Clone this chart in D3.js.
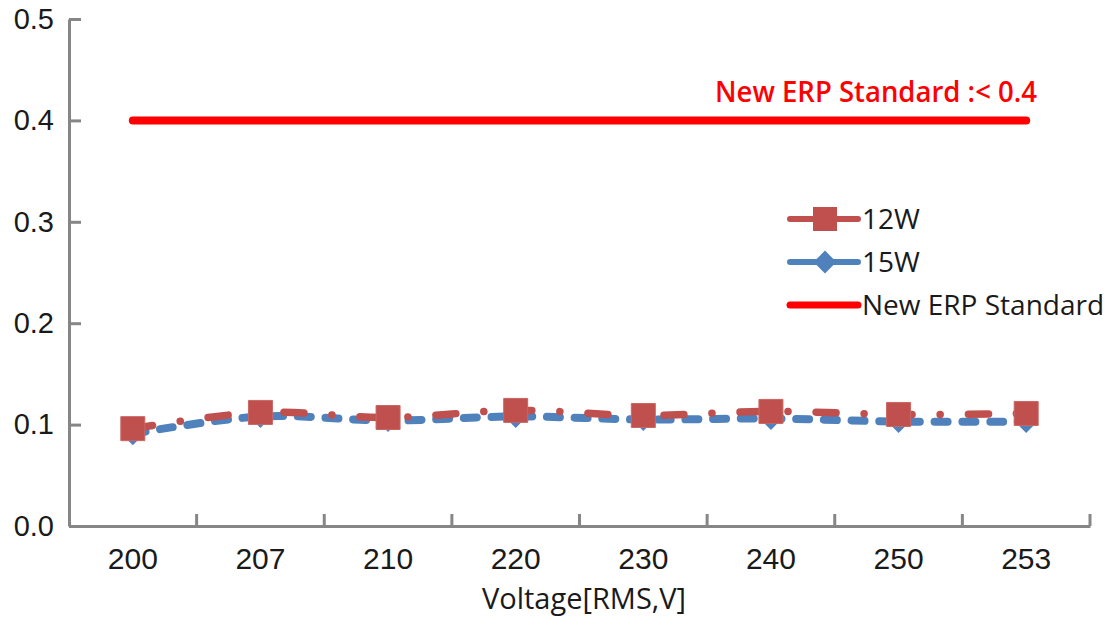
<!DOCTYPE html>
<html>
<head>
<meta charset="utf-8">
<script src="https://cdn.jsdelivr.net/npm/d3@7/dist/d3.min.js"></script>
<style>
  html, body { margin: 0; padding: 0; background: #fff; }
  svg { display: block; font-family: "Open Sans", "Noto Sans", sans-serif; }
</style>
</head>
<body>
<svg id="chart" width="1116" height="625"></svg>
<script>
const categories = ["200", "207", "210", "220", "230", "240", "250", "253"];
const series12W = [0.096, 0.112, 0.107, 0.114, 0.109, 0.113, 0.110, 0.111];
const series15W = [0.091, 0.108, 0.104, 0.108, 0.105, 0.106, 0.103, 0.103];
const standardValue = 0.4;
const yTicks = [0, 0.1, 0.2, 0.3, 0.4, 0.5];
const seriesNames = ["12W", "15W", "New ERP Standard"];
const standardLabel = "New ERP Standard :< 0.4";
const xTitle = "Voltage[RMS,V]";

const svg = d3.select("#chart");
const plotLeft = 69, plotRight = 1090, plotTop = 19, plotBottom = 526;

const x = d3.scaleBand().domain(categories).range([plotLeft, plotRight]).padding(0);
const y = d3.scaleLinear().domain([0, 0.5]).range([plotBottom, plotTop]);
const cx = c => x(c) + x.bandwidth() / 2;

const axisColor = "#868686";
const textColor = "#1a1a1a";

// Y axis
const yAxis = d3.axisLeft(y).tickValues(yTicks).tickFormat(d3.format(".1f"))
  .tickSizeInner(-12).tickSizeOuter(0).tickPadding(15);
const gy = svg.append("g").attr("transform", `translate(${plotLeft},0)`).call(yAxis);
gy.select(".domain").attr("stroke", axisColor).attr("stroke-width", 3);
gy.selectAll(".tick line").attr("stroke", axisColor).attr("stroke-width", 3);
gy.selectAll(".tick text").attr("fill", textColor).style("font-size", "29px");

// X axis
const xAxis = d3.axisBottom(x).tickSize(0).tickPadding(22);
const gx = svg.append("g").attr("transform", `translate(0,${plotBottom})`).call(xAxis);
gx.select(".domain").attr("stroke", axisColor).attr("stroke-width", 3);
gx.selectAll(".tick text").attr("fill", textColor).style("font-size", "30px");
gx.selectAll(".bt").data(categories).enter().append("line")
  .attr("x1", c => x(c) + x.bandwidth()).attr("x2", c => x(c) + x.bandwidth())
  .attr("y1", 0).attr("y2", -12)
  .attr("stroke", axisColor).attr("stroke-width", 3);

svg.append("text").attr("x", 584).attr("y", 609)
  .attr("text-anchor", "middle").attr("fill", textColor)
  .style("font-size", "29px").text(xTitle);

// Standard line
svg.append("line")
  .attr("x1", cx(categories[0])).attr("x2", cx(categories[categories.length - 1]))
  .attr("y1", y(standardValue)).attr("y2", y(standardValue))
  .attr("stroke", "#ff0000").attr("stroke-width", 8).attr("stroke-linecap", "round");

svg.append("text").attr("x", 1037).attr("y", 102).attr("text-anchor", "end")
  .attr("fill", "#ff0000").style("font-size", "29px").style("font-weight", 600)
  .attr("textLength", 322).attr("lengthAdjust", "spacingAndGlyphs")
  .text(standardLabel);

const line = d3.line().curve(d3.curveCardinal.tension(0)).x(d => cx(d[0])).y(d => y(d[1]));

const blue = "#4F81BD", red = "#C0504D";

svg.append("path").datum(categories.map((c, i) => [c, series15W[i]]))
  .attr("d", line).attr("fill", "none").attr("stroke", blue)
  .attr("stroke-width", 8).attr("stroke-linecap", "round")
  .attr("stroke-dasharray", "13 14.7");

svg.append("path").datum(categories.map((c, i) => [c, series12W[i]]))
  .attr("d", line).attr("fill", "none").attr("stroke", red)
  .attr("stroke-width", 7.5).attr("stroke-linecap", "round")
  .attr("stroke-dasharray", "20 28 0.1 28");

const diamondPath = d3.symbol().type(d3.symbolSquare).size(260)();
const squarePath = d3.symbol().type(d3.symbolSquare).size(576)();

svg.selectAll(".dm").data(series15W).enter().append("path")
  .attr("transform", (d, i) => `translate(${cx(categories[i])},${y(d)}) rotate(45)`)
  .attr("d", diamondPath).attr("fill", blue);

svg.selectAll(".sq").data(series12W).enter().append("path")
  .attr("transform", (d, i) => `translate(${cx(categories[i])},${y(d)})`)
  .attr("d", squarePath).attr("fill", red).attr("stroke", "#c96663").attr("stroke-width", 1);

// Legend
const legendRows = [
  { name: seriesNames[0], color: red, marker: "square", w: 6, y: 219 },
  { name: seriesNames[1], color: blue, marker: "diamond", w: 6, y: 262 },
  { name: seriesNames[2], color: "#ff0000", marker: null, w: 7, y: 305 }
];
const lg = svg.append("g");
legendRows.forEach(r => {
  lg.append("line").attr("x1", 790).attr("x2", 858).attr("y1", r.y).attr("y2", r.y)
    .attr("stroke", r.color).attr("stroke-width", r.w).attr("stroke-linecap", "round");
  if (r.marker === "square") {
    lg.append("path").attr("transform", `translate(825,${r.y})`)
      .attr("d", squarePath).attr("fill", r.color);
  } else if (r.marker === "diamond") {
    lg.append("path").attr("transform", `translate(825,${r.y}) rotate(45)`)
      .attr("d", diamondPath).attr("fill", r.color);
  }
  lg.append("text").attr("x", 862).attr("y", r.y).attr("dy", "0.35em")
    .attr("fill", textColor).style("font-size", "28px").text(r.name);
});
</script>
</body>
</html>
